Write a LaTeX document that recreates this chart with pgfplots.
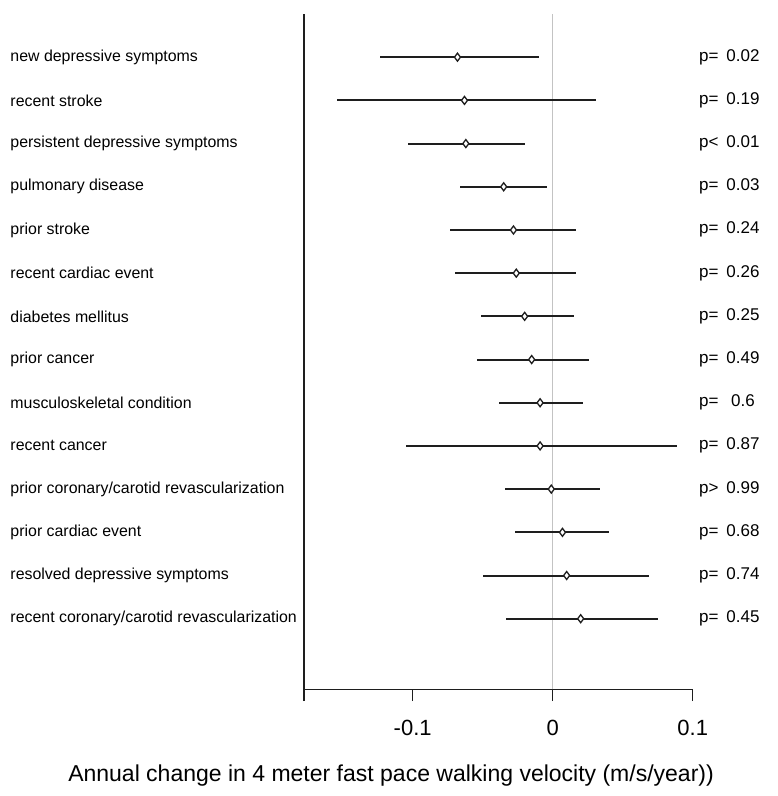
\documentclass[border=0pt]{standalone}
\usepackage{fontspec}
\setmainfont{Liberation Sans}
\usepackage{pgfplots}
\usepackage{pgfplotstable}
\pgfplotsset{compat=1.18}
\definecolor{zeroline}{RGB}{195,195,195}
\definecolor{ink}{RGB}{30,30,30}

\pgfplotstableread{
y m lo hi
14 -0.068 -0.123 -0.010
13 -0.063 -0.154 0.031
12 -0.062 -0.103 -0.020
11 -0.035 -0.066 -0.004
10 -0.028 -0.073 0.017
9 -0.026 -0.070 0.017
8 -0.020 -0.051 0.015
7 -0.015 -0.054 0.026
6 -0.009 -0.038 0.022
5 -0.009 -0.105 0.089
4 -0.001 -0.034 0.034
3 0.007 -0.027 0.040
2 0.010 -0.050 0.069
1 0.020 -0.033 0.075
}\forest

\begin{document}
\begin{tikzpicture}
\useasboundingbox (0,0) rectangle (778pt,-796pt);
\begin{axis}[
  at={(304pt,-689.3pt)}, anchor=south west,
  scale only axis, width=388.7pt, height=675.3pt,
  xmin=-0.1776, xmax=0.1, ymin=-0.635, ymax=15.0,
  axis x line*=bottom, axis y line*=left,
  axis line style={-, line width=1.5pt, ink},
  clip=false,
  xtick={-0.1776,-0.1,0,0.1},
  xticklabels={,-0.1,0,0.1},
  x tick style={line width=1.5pt, ink},
  tick align=outside,
  major tick length=11.7pt,
  xticklabel style={font=\fontsize{22}{26}\selectfont, anchor=center, yshift=-27pt},
  ytick={1,...,14},
  yticklabels={recent coronary/carotid revascularization, resolved depressive symptoms, prior cardiac event, prior coronary/carotid revascularization, recent cancer, musculoskeletal condition, prior cancer, diabetes mellitus, recent cardiac event, prior stroke, pulmonary disease, persistent depressive symptoms, recent stroke, new depressive symptoms},
  y tick style={draw=none},
  yticklabel style={font=\fontsize{15.9}{18}\selectfont, anchor=west, inner sep=0pt, xshift=-282pt},
  xlabel={Annual change in 4 meter fast pace walking velocity (m/s/year))},
  xlabel style={font=\fontsize{23}{27}\selectfont, at={(axis description cs:0.224,-0.128)}, anchor=center},
]
\addplot[zeroline, line width=1pt] coordinates {(0,-0.635) (0,15.0)};
\addplot[ink, draw=none, mark=diamond*, mark size=4pt,
  mark options={fill=white, draw=ink, line width=1.3pt},
  error bars/.cd, x dir=both, x explicit,
  error bar style={line width=2pt, ink}, error mark=none]
  table[x=m, y=y, x error plus expr=\thisrow{hi}-\thisrow{m}, x error minus expr=\thisrow{m}-\thisrow{lo}] {\forest};
\begin{scope}[every node/.style={font=\fontsize{17}{20}\selectfont, inner sep=0pt}]
\node[anchor=west] at (axis cs:0.1045,14) {\strut p=};
\node[anchor=west] at (axis cs:0.1045,13) {\strut p=};
\node[anchor=west] at (axis cs:0.1045,12) {\strut p<};
\node[anchor=west] at (axis cs:0.1045,11) {\strut p=};
\node[anchor=west] at (axis cs:0.1045,10) {\strut p=};
\node[anchor=west] at (axis cs:0.1045,9) {\strut p=};
\node[anchor=west] at (axis cs:0.1045,8) {\strut p=};
\node[anchor=west] at (axis cs:0.1045,7) {\strut p=};
\node[anchor=west] at (axis cs:0.1045,6) {\strut p=};
\node[anchor=west] at (axis cs:0.1045,5) {\strut p=};
\node[anchor=west] at (axis cs:0.1045,4) {\strut p>};
\node[anchor=west] at (axis cs:0.1045,3) {\strut p=};
\node[anchor=west] at (axis cs:0.1045,2) {\strut p=};
\node[anchor=west] at (axis cs:0.1045,1) {\strut p=};
\node at (axis cs:0.1359,14) {\strut 0.02};
\node at (axis cs:0.1359,13) {\strut 0.19};
\node at (axis cs:0.1359,12) {\strut 0.01};
\node at (axis cs:0.1359,11) {\strut 0.03};
\node at (axis cs:0.1359,10) {\strut 0.24};
\node at (axis cs:0.1359,9) {\strut 0.26};
\node at (axis cs:0.1359,8) {\strut 0.25};
\node at (axis cs:0.1359,7) {\strut 0.49};
\node at (axis cs:0.1359,6) {\strut 0.6};
\node at (axis cs:0.1359,5) {\strut 0.87};
\node at (axis cs:0.1359,4) {\strut 0.99};
\node at (axis cs:0.1359,3) {\strut 0.68};
\node at (axis cs:0.1359,2) {\strut 0.74};
\node at (axis cs:0.1359,1) {\strut 0.45};
\end{scope}
\end{axis}
\end{tikzpicture}
\end{document}
